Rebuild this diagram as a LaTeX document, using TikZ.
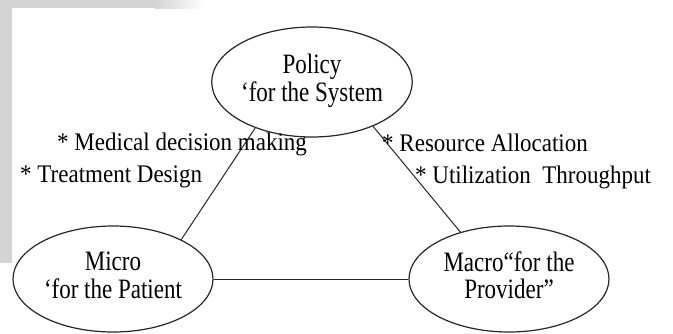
\documentclass[tikz,border=0pt]{standalone}
\usepackage{fontspec}
\usepackage{graphicx}
\setmainfont{Liberation Serif}
\usetikzlibrary{shapes.geometric}
\newcommand\tallcell[2]{\scalebox{1}[#1]{\begin{tabular}{@{}c@{}}#2\end{tabular}}}
\tikzset{
  bubble/.style={draw=black!85, line width=1.2pt, ellipse, minimum width=200pt,
    inner sep=0pt, align=center, font=\fontsize{23}{22}\selectfont},
  link/.style={draw=black!85, line width=1pt},
  note/.style={anchor=base west, inner sep=0pt, font=\fontsize{23}{27}\selectfont}
}
\begin{document}
\begin{tikzpicture}[x=1pt,y=-1pt]
\useasboundingbox (0,0) rectangle (673,333);
% page artefacts
\fill[black!17] (0,0) rectangle (12,263);
\fill[black!17] (0,0) rectangle (155,8);
\shade[left color=black!17, right color=white] (155,0) rectangle (205,8);
\fill[white] (12,8) rectangle (40,263);
% ellipses
\node[bubble, minimum height=110pt] (policy) at (312,82) {\tallcell{1.22}{Policy\\`for the System}};
\node[bubble, minimum height=106pt] (micro) at (113,279) {\tallcell{1.22}{Micro\\`for the Patient}};
\node[bubble, minimum height=106pt] (macro) at (509,279) {\tallcell{1.22}{Macro``for the\\Provider''}};
% connectors
\draw[link] (policy.219) -- (micro.30);
\draw[link] (policy.324) -- (macro.136);
\draw[link] (micro.east) -- (macro.west);
% notes
\node[note] (n1) at (57,150) {\scalebox{1}[1.1]{* Medical decision making}};
\node[note] (n2) at (20,182) {\scalebox{1}[1.1]{* Treatment Design}};
\node[note] (n3) at (382,151) {\scalebox{1}[1.1]{* Resource Allocation}};
\node[note] (n4) at (415,183) {\scalebox{1}[1.1]{* Utilization~ Throughput}};
\end{tikzpicture}
\end{document}
